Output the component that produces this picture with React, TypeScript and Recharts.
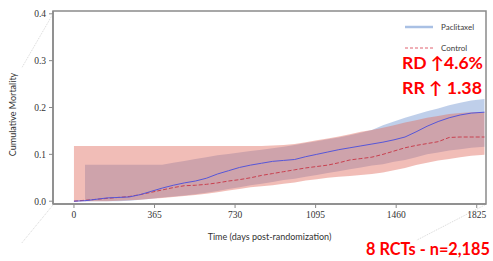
import React from 'react';
import { ComposedChart, Area, Line, XAxis, YAxis, ReferenceArea, ReferenceLine } from 'recharts';

const days = [0, 50, 100, 150, 200, 250, 300, 350, 400, 450, 500, 550, 600, 650, 700, 750, 800, 850, 900, 950, 1000, 1050, 1100, 1150, 1200, 1250, 1300, 1350, 1400, 1450, 1500, 1550, 1600, 1650, 1700, 1750, 1800, 1860];

const paclitaxelRisk = [0, 0.001, 0.004, 0.007, 0.008, 0.009, 0.014, 0.021, 0.028, 0.034, 0.039, 0.043, 0.049, 0.058, 0.065, 0.072, 0.077, 0.081, 0.085, 0.087, 0.089, 0.095, 0.1, 0.105, 0.11, 0.114, 0.118, 0.122, 0.126, 0.131, 0.137, 0.148, 0.16, 0.17, 0.178, 0.184, 0.188, 0.19];
const paclitaxelLower = [null, 0, 0, 0, 0, 0.001, 0.003, 0.005, 0.008, 0.01, 0.012, 0.015, 0.018, 0.022, 0.026, 0.03, 0.034, 0.037, 0.041, 0.045, 0.048, 0.052, 0.056, 0.06, 0.064, 0.068, 0.072, 0.076, 0.079, 0.084, 0.088, 0.094, 0.1, 0.104, 0.108, 0.111, 0.114, 0.116];
const paclitaxelUpper = [null, 0.078, 0.078, 0.078, 0.078, 0.078, 0.078, 0.078, 0.078, 0.082, 0.086, 0.09, 0.094, 0.098, 0.101, 0.104, 0.107, 0.11, 0.113, 0.116, 0.12, 0.124, 0.128, 0.132, 0.136, 0.141, 0.146, 0.152, 0.162, 0.17, 0.178, 0.185, 0.192, 0.198, 0.205, 0.21, 0.215, 0.218];

const controlRisk = [0, 0.002, 0.004, 0.006, 0.008, 0.01, 0.014, 0.019, 0.024, 0.029, 0.033, 0.034, 0.036, 0.039, 0.043, 0.046, 0.05, 0.055, 0.059, 0.063, 0.067, 0.071, 0.074, 0.077, 0.082, 0.088, 0.091, 0.094, 0.1, 0.107, 0.114, 0.119, 0.123, 0.127, 0.136, 0.137, 0.137, 0.137];
const controlLower = [0, 0, 0, 0, 0.001, 0.002, 0.003, 0.005, 0.007, 0.009, 0.011, 0.013, 0.016, 0.019, 0.023, 0.026, 0.03, 0.032, 0.034, 0.037, 0.04, 0.044, 0.047, 0.05, 0.052, 0.054, 0.056, 0.058, 0.061, 0.066, 0.071, 0.077, 0.082, 0.087, 0.09, 0.094, 0.097, 0.099];
const controlUpper = [0.118, 0.118, 0.118, 0.118, 0.118, 0.118, 0.118, 0.118, 0.118, 0.118, 0.118, 0.118, 0.118, 0.118, 0.118, 0.118, 0.118, 0.118, 0.119, 0.12, 0.122, 0.126, 0.13, 0.134, 0.138, 0.143, 0.148, 0.152, 0.157, 0.162, 0.168, 0.173, 0.178, 0.182, 0.186, 0.188, 0.19, 0.19];

const dayTicks = [0, 365, 730, 1095, 1460, 1825];
const riskTicks = [0, 0.1, 0.2, 0.3, 0.4];

const seriesNames = ['Paclitaxel', 'Control'];
const annotations = ['RD \u21914.6%', 'RR \u2191 1.38', '8 RCTs - n=2,185'];

const table = days.map((day, i) => ({
  day,
  pac: paclitaxelRisk[i],
  ctl: controlRisk[i],
  pacBand: paclitaxelLower[i] === null ? null : [paclitaxelLower[i], paclitaxelUpper[i]],
  ctlBand: [controlLower[i], controlUpper[i]],
}));

const W = 493;
const H = 261;
const X_DOMAIN: [number, number] = [-95, 1867];
const Y_DOMAIN: [number, number] = [-0.006, 0.406];

const axisGrey = '#8a8a8a';
const tickFont = { fill: '#333', fontSize: 9.5, fontFamily: '"Liberation Serif", serif' };

const YLabel = (props: any) => {
  const vb = props.viewBox || { x: 0, y: 11, width: 53, height: 193 };
  const cx = vb.x + 12;
  const cy = vb.y + vb.height / 2 + 7;
  return (
    <text x={cx} y={cy} transform={`rotate(-90, ${cx}, ${cy})`} textAnchor="middle" dominantBaseline="central"
      fill="#333" fontSize={9} fontFamily="Lato, sans-serif">Cumulative Mortality</text>
  );
};

export default function App() {
  return (
    <div style={{ position: 'absolute', left: 0, top: 0, width: W, height: H, background: '#fff' }}>
      <ComposedChart width={W} height={H} data={table} margin={{ top: 11, right: 7, bottom: 0, left: 0 }}>
        <XAxis dataKey="day" type="number" domain={X_DOMAIN} allowDataOverflow ticks={dayTicks} height={57}
          tickSize={4} tickMargin={3} axisLine={{ stroke: axisGrey, strokeWidth: 1.5 }} tickLine={{ stroke: axisGrey }}
          tick={tickFont}
          label={{ value: 'Time (days post-randomization)', position: 'insideBottom', offset: 21, fill: '#333', fontSize: 9, fontFamily: 'Lato, sans-serif' }} />
        <YAxis type="number" domain={Y_DOMAIN} allowDataOverflow ticks={riskTicks} width={53}
          tickFormatter={(v: number) => v.toFixed(1)} tickSize={4} tickMargin={3}
          axisLine={{ stroke: axisGrey, strokeWidth: 1.5 }} tickLine={{ stroke: axisGrey }} tick={tickFont}
          label={<YLabel />} />
        <Area dataKey="pacBand" type="linear" stroke="none" fill="#7f9fd6" fillOpacity={0.5} isAnimationActive={false} />
        <Area dataKey="ctlBand" type="linear" stroke="none" fill="#e06c60" fillOpacity={0.45} isAnimationActive={false} />
        <Line dataKey="ctl" type="linear" stroke="#c8404f" strokeWidth={1} strokeDasharray="4 2" dot={false} isAnimationActive={false} />
        <Line dataKey="pac" type="linear" stroke="#5656d8" strokeWidth={1} dot={false} isAnimationActive={false} />
        <ReferenceArea x1={X_DOMAIN[0]} x2={X_DOMAIN[1]} y1={Y_DOMAIN[0]} y2={Y_DOMAIN[1]} fill="none" fillOpacity={0}
          stroke={axisGrey} strokeWidth={1.5} ifOverflow="visible" />
        <ReferenceLine segment={[{ x: -95, y: 0.4 }, { x: -236, y: 0.285 }]} stroke="#d8d8d8" strokeDasharray="1 1" ifOverflow="visible" />
        <ReferenceLine segment={[{ x: -95, y: -0.008 }, { x: -236, y: -0.089 }]} stroke="#d8d8d8" strokeDasharray="1 1" ifOverflow="visible" />
        <ReferenceLine segment={[{ x: 1862, y: -0.008 }, { x: 1554, y: -0.083 }]} stroke="#d8d8d8" strokeDasharray="1 1" ifOverflow="visible" />
      </ComposedChart>
      <svg width={W} height={H} style={{ position: 'absolute', left: 0, top: 0, pointerEvents: 'none' }}>
        <line x1={405} y1={27} x2={433} y2={27} stroke="#a9c0e4" strokeWidth={2.5} />
        <text x={441} y={27} dominantBaseline="central" fontSize={8} fill="#404040" fontFamily="Lato, sans-serif">{seriesNames[0]}</text>
        <line x1={405} y1={48} x2={433} y2={48} stroke="#e0606e" strokeWidth={1} strokeDasharray="3 2" />
        <text x={441} y={48} dominantBaseline="central" fontSize={8} fill="#404040" fontFamily="Lato, sans-serif">{seriesNames[1]}</text>
        <text x={402} y={62} dominantBaseline="central" fontSize={17} fontWeight="bold" fill="#ff0000" fontFamily="Lato, sans-serif"
          textLength={81} lengthAdjust="spacingAndGlyphs">{annotations[0]}</text>
        <text x={402} y={87} dominantBaseline="central" fontSize={17} fontWeight="bold" fill="#ff0000" fontFamily="Lato, sans-serif"
          textLength={80} lengthAdjust="spacingAndGlyphs">{annotations[1]}</text>
        <text x={366} y={249} dominantBaseline="central" fontSize={16.5} fontWeight="bold" fill="#ff0000" fontFamily="Lato, sans-serif"
          textLength={124} lengthAdjust="spacingAndGlyphs">{annotations[2]}</text>
      </svg>
    </div>
  );
}
